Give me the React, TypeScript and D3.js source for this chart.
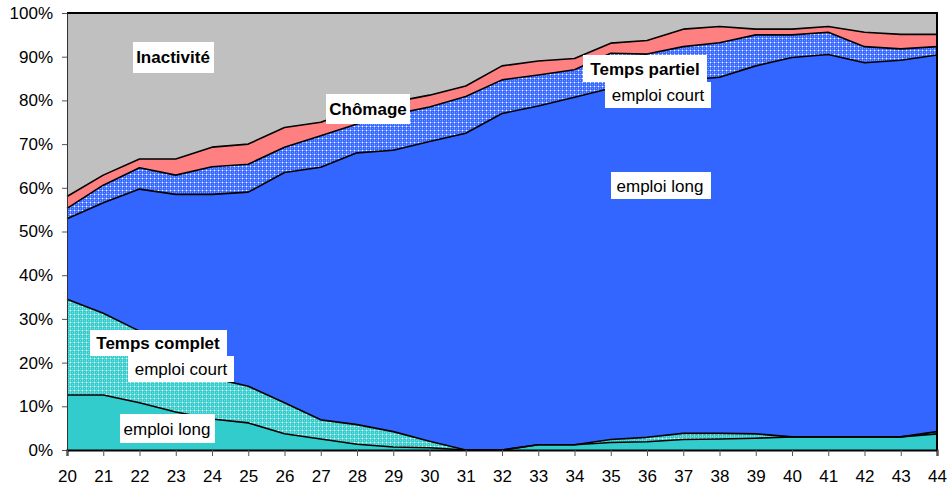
import { useEffect, useRef } from "react";
import * as d3 from "d3";

// âge en abscisse
const ages = [20, 21, 22, 23, 24, 25, 26, 27, 28, 29, 30, 31, 32, 33, 34, 35, 36, 37, 38, 39, 40, 41, 42, 43, 44];

// parts en %, de bas en haut
const tcLong = [12.6, 12.6, 10.8, 8.7, 7.1, 6.2, 3.7, 2.5, 1.3, 0.7, 0.5, 0, 0, 1.2, 1.2, 1.7, 1.9, 2.4, 2.5, 2.7, 3.0, 3.0, 3.0, 3.0, 3.7];
const tcCourt = [21.9, 18.7, 16.4, 11.8, 9.4, 8.4, 7.1, 4.4, 4.5, 3.5, 1.5, 0, 0, 0, 0, 0.7, 1.0, 1.4, 1.3, 1.0, 0, 0, 0, 0, 0.5];
const tpLong = [18.4, 25.3, 32.5, 38.0, 42.0, 44.4, 52.7, 57.8, 62.2, 64.4, 68.6, 72.5, 77.0, 77.5, 79.5, 80.4, 80.9, 80.8, 81.5, 84.2, 86.8, 87.5, 85.6, 86.2, 86.2];
const tpCourt = [2.4, 4.0, 4.9, 4.4, 6.3, 6.4, 5.8, 7.2, 6.6, 8.2, 7.9, 8.4, 7.7, 7.1, 6.3, 8.0, 6.8, 7.7, 7.9, 7.1, 5.2, 5.1, 3.7, 2.6, 1.9];
const chomage = [2.7, 2.3, 2.0, 3.7, 4.5, 4.6, 4.5, 3.1, 3.4, 2.8, 2.7, 2.4, 3.2, 3.2, 2.6, 2.3, 3.1, 4.0, 3.7, 1.3, 1.3, 1.3, 3.3, 3.3, 2.8];
const inactivite = [42.0, 37.1, 33.4, 33.4, 30.7, 30.0, 26.2, 25.0, 22.0, 20.4, 18.8, 16.7, 12.1, 11.0, 10.4, 6.9, 6.3, 3.7, 3.1, 3.7, 3.7, 3.1, 4.4, 4.9, 4.9];

const yTicks = [0, 10, 20, 30, 40, 50, 60, 70, 80, 90, 100];

const keys = ["tcLong", "tcCourt", "tpLong", "tpCourt", "chomage", "inactivite"];
const fills: Record<string, string> = {
  tcLong: "#33CCCC",
  tcCourt: "url(#dotTeal)",
  tpLong: "#3366FF",
  tpCourt: "url(#dotBlue)",
  chomage: "#FF8080",
  inactivite: "#C0C0C0",
};

const labels = [
  { text: "Inactivité", bold: true, box: [133, 42, 81, 31], tx: 173, ty: 63 },
  { text: "Chômage", bold: true, box: [326, 94, 84, 30], tx: 368, ty: 115 },
  { text: "Temps partiel", bold: true, box: [583, 55, 124, 27], tx: 645, ty: 75 },
  { text: "emploi court", bold: false, box: [605, 82, 106, 26], tx: 658, ty: 101 },
  { text: "emploi long", bold: false, box: [611, 172, 100, 27], tx: 660, ty: 192 },
  { text: "Temps complet", bold: true, box: [90, 330, 137, 26], tx: 158, ty: 349 },
  { text: "emploi court", bold: false, box: [128, 356, 106, 26], tx: 181, ty: 375 },
  { text: "emploi long", bold: false, box: [120, 414, 95, 29], tx: 167, ty: 435 },
];

export default function App() {
  const ref = useRef<SVGSVGElement>(null);

  useEffect(() => {
    const W = 950, H = 489;
    const left = 67, right = 937, top = 13, bottom = 450;
    const svg = d3.select(ref.current);
    svg.selectAll("*").remove();
    svg.attr("width", W).attr("height", H);

    const defs = svg.append("defs");
    const mkPattern = (id: string, base: string) => {
      const p = defs.append("pattern").attr("id", id)
        .attr("width", 4).attr("height", 4).attr("patternUnits", "userSpaceOnUse");
      p.append("rect").attr("width", 4).attr("height", 4).attr("fill", base);
      p.append("rect").attr("x", 0).attr("y", 2).attr("width", 4).attr("height", 1).attr("fill", "#fff").attr("opacity", 0.3);
      p.append("rect").attr("x", 2).attr("y", 0).attr("width", 1).attr("height", 4).attr("fill", "#fff").attr("opacity", 0.3);
      p.append("rect").attr("x", 2).attr("y", 2).attr("width", 1).attr("height", 1).attr("fill", "#fff");
      p.append("rect").attr("x", 0).attr("y", 0).attr("width", 1).attr("height", 1).attr("fill", "#fff").attr("opacity", 0.35);
    };
    mkPattern("dotBlue", "#3366FF");
    mkPattern("dotTeal", "#33CCCC");

    const rows = ages.map((a, i) => ({
      age: a,
      tcLong: tcLong[i],
      tcCourt: tcCourt[i],
      tpLong: tpLong[i],
      tpCourt: tpCourt[i],
      chomage: chomage[i],
      inactivite: inactivite[i],
    }));

    const x = d3.scaleLinear().domain([20, 44]).range([left, right]);
    const y = d3.scaleLinear().domain([0, 100]).range([bottom, top]).clamp(true);

    const stacked = d3.stack<any>().keys(keys)(rows);

    const area = d3.area<any>()
      .x(d => x(d.data.age))
      .y0(d => y(d[0]))
      .y1(d => y(d[1]));

    svg.append("g").selectAll("path")
      .data(stacked)
      .enter()
      .append("path")
      .attr("d", area)
      .attr("fill", d => fills[d.key]);

    const line = d3.line<any>()
      .x(d => x(d.data.age))
      .y(d => y(d[1]));

    svg.append("g").selectAll("path")
      .data(stacked.slice(0, 5))
      .enter()
      .append("path")
      .attr("d", line)
      .attr("fill", "none")
      .attr("stroke", "#000")
      .attr("stroke-width", 1.6)
      .attr("stroke-linejoin", "round");

    // bordure du cadre
    svg.append("line").attr("x1", left).attr("x2", right + 1).attr("y1", top).attr("y2", top)
      .attr("stroke", "#000").attr("stroke-width", 2);
    svg.append("line").attr("x1", right).attr("x2", right).attr("y1", top).attr("y2", bottom)
      .attr("stroke", "#000").attr("stroke-width", 2);

    // axe Y
    const yAxis = svg.append("g")
      .attr("transform", `translate(${left},0)`)
      .call(d3.axisLeft(y).tickValues(yTicks).tickSize(5).tickPadding(9).tickFormat(d => `${d}%`));
    yAxis.select(".domain").attr("stroke", "#333");
    yAxis.selectAll(".tick line").attr("stroke", "#555");
    yAxis.selectAll("text")
      .attr("font-family", "'Liberation Sans', Arial, sans-serif")
      .attr("font-size", 17)
      .attr("fill", "#000");

    // axe X
    const xAxis = svg.append("g")
      .attr("transform", `translate(0,${bottom})`)
      .call(d3.axisBottom(x).tickValues(ages).tickSize(6).tickPadding(14).tickFormat(d3.format("d")));
    xAxis.select(".domain").attr("stroke", "#000").attr("stroke-width", 2);
    xAxis.selectAll(".tick line").attr("stroke", "#555");
    xAxis.selectAll("text")
      .attr("font-family", "'Liberation Sans', Arial, sans-serif")
      .attr("font-size", 17)
      .attr("fill", "#000");

    // étiquettes
    const lab = svg.append("g");
    labels.forEach(l => {
      lab.append("rect")
        .attr("x", l.box[0]).attr("y", l.box[1])
        .attr("width", l.box[2]).attr("height", l.box[3])
        .attr("fill", "#fff");
      lab.append("text")
        .attr("x", l.tx).attr("y", l.ty)
        .attr("text-anchor", "middle")
        .attr("font-family", "'Liberation Sans', Arial, sans-serif")
        .attr("font-size", 17)
        .attr("font-weight", l.bold ? "bold" : "normal")
        .attr("fill", "#000")
        .text(l.text);
    });
  }, []);

  return <svg ref={ref} style={{ position: "absolute", left: 0, top: 0, background: "#fff" }} />;
}
